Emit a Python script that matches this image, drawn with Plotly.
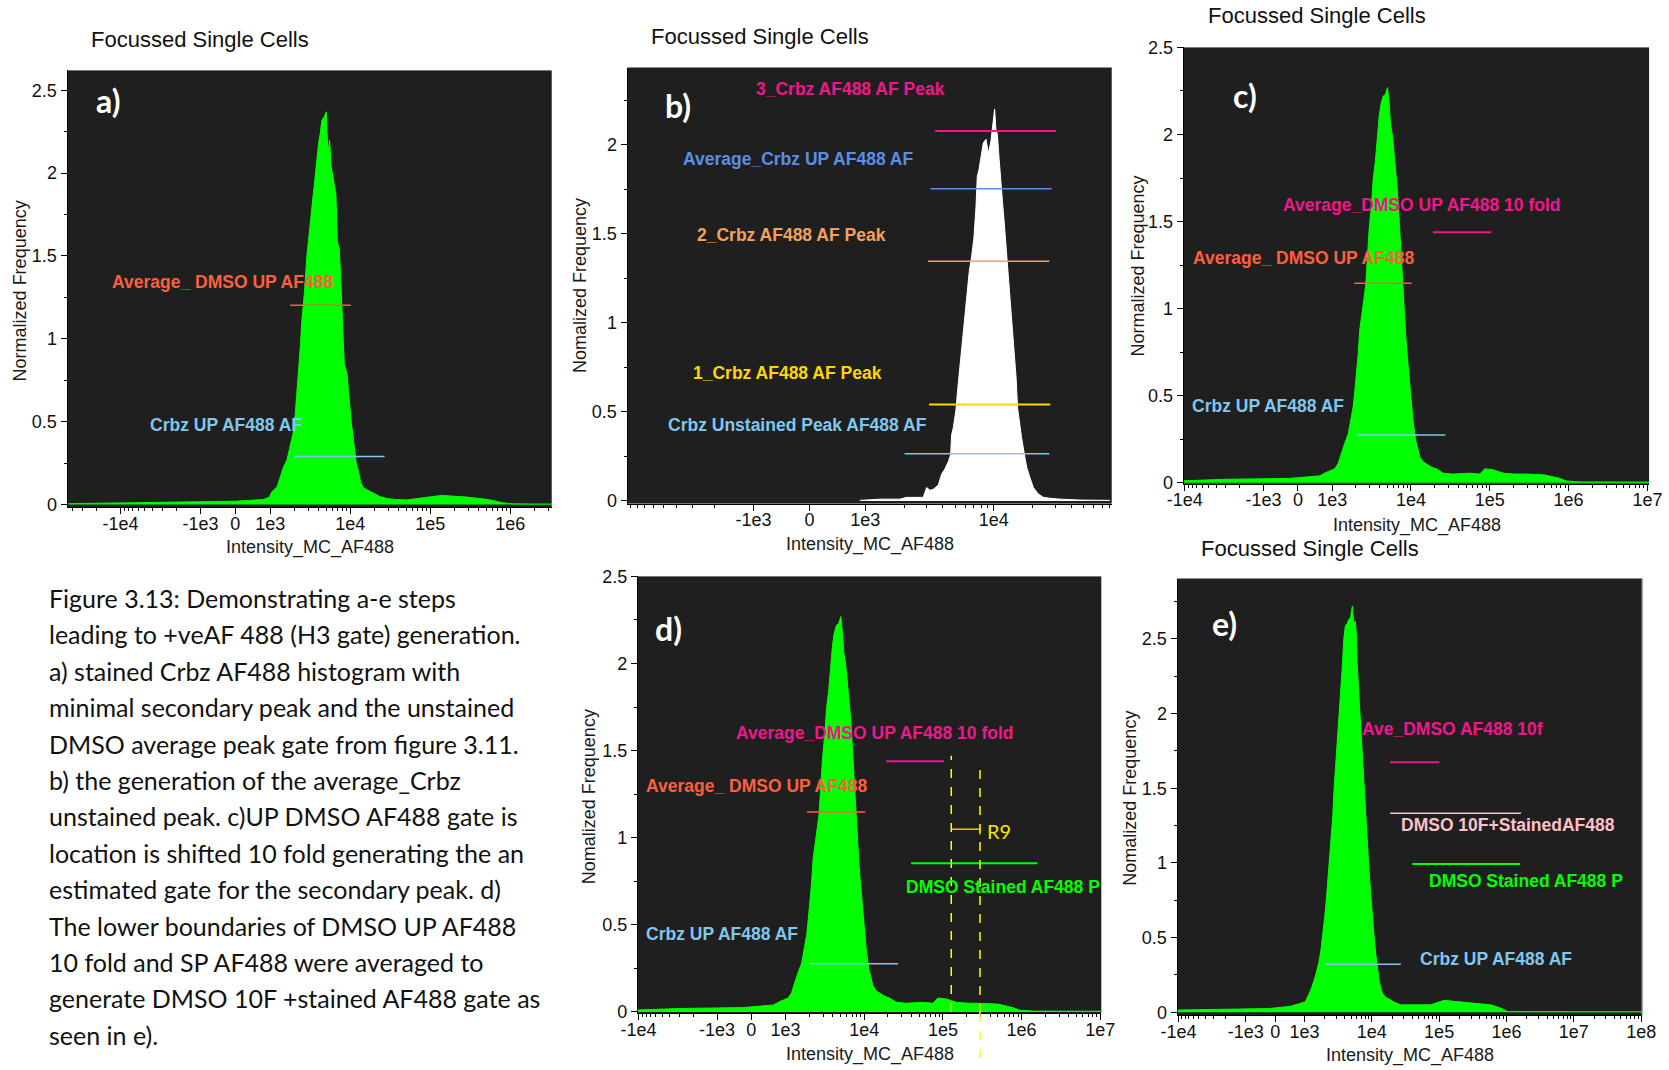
import numpy as np
import plotly.graph_objects as go

# ---------------------------------------------------------------- data
# histogram envelopes: bin intensity (Intensity_MC_AF488) and normalized frequency
a_intensity = [-4.5e4, -3.0e4, -1.0e4, -3.0e3, -1.5e3, -570, 0, 460, 800, 980, 1.05e3, 1.22e3, 1.34e3,
               1.47e3, 1.62e3, 1.78e3, 1.93e3, 2.06e3, 2.27e3, 2.38e3, 2.49e3, 2.67e3, 2.88e3, 3.11e3,
               3.33e3, 3.56e3, 3.77e3, 4.03e3, 4.23e3, 4.43e3, 4.74e3, 5.02e3, 5.27e3, 5.53e3, 5.80e3,
               6.21e3, 6.64e3, 6.90e3, 7.31e3, 7.59e3, 7.89e3, 8.43e3, 9.12e3, 9.75e3, 1.03e4, 1.10e4,
               1.19e4, 1.27e4, 1.36e4, 1.47e4, 1.70e4, 1.96e4, 2.37e4, 2.88e4, 3.64e4, 5.1e4, 8.3e4,
               1.39e5, 2.86e5, 5.32e5, 8.05e5, 1.10e6, 2.0e6, 3.5e6]
a_freq = [0.005, 0.006, 0.008, 0.01, 0.015, 0.018, 0.02, 0.025, 0.03, 0.045, 0.077, 0.107, 0.168,
          0.228, 0.268, 0.349, 0.429, 0.55, 0.80, 0.95, 1.11, 1.27, 1.50, 1.68,
          1.80, 1.93, 2.05, 2.18, 2.24, 2.32, 2.34, 2.37, 2.12, 2.20, 2.04,
          1.94, 1.87, 1.59, 1.54, 1.38, 1.15, 0.85, 0.79, 0.61, 0.50, 0.39,
          0.25, 0.20, 0.13, 0.10, 0.085, 0.067, 0.047, 0.037, 0.03, 0.028, 0.04,
          0.055, 0.045, 0.03, 0.01, 0.004, 0.003, 0.003]

b_intensity = [900, 1.30e3, 1.86e3, 2.09e3, 2.82e3, 3.00e3, 3.18e3, 3.38e3, 3.70e3, 3.92e3, 4.16e3,
               4.42e3, 4.61e3, 4.69e3, 4.83e3, 5.07e3, 5.22e3, 5.38e3, 5.55e3, 5.71e3, 5.89e3, 6.07e3,
               6.25e3, 6.44e3, 6.71e3, 7.00e3, 7.26e3, 7.43e3, 7.66e3, 7.89e3, 8.28e3, 8.69e3, 9.06e3,
               9.49e3, 9.89e3, 1.014e4, 1.038e4, 1.064e4, 1.096e4, 1.13e4, 1.17e4, 1.205e4, 1.24e4,
               1.29e4, 1.33e4, 1.38e4, 1.43e4, 1.49e4, 1.53e4, 1.58e4, 1.64e4, 1.71e4, 1.80e4, 1.91e4,
               2.03e4, 2.21e4, 2.43e4, 2.73e4, 3.27e4, 4.67e4, 8.0e4]
b_freq = [0.003, 0.01, 0.01, 0.02, 0.02, 0.075, 0.06, 0.065, 0.09, 0.15, 0.18,
          0.22, 0.26, 0.37, 0.41, 0.51, 0.62, 0.72, 0.81, 0.92, 1.01, 1.12,
          1.22, 1.29, 1.37, 1.48, 1.65, 1.82, 1.86, 1.92, 2.01, 2.03, 1.95,
          2.02, 2.12, 2.20, 2.08, 2.06, 1.93, 1.78, 1.67, 1.56, 1.44,
          1.29, 1.14, 0.99, 0.86, 0.69, 0.52, 0.43, 0.36, 0.28, 0.19, 0.13,
          0.075, 0.04, 0.02, 0.015, 0.01, 0.005, 0.003]

# panels c and d show the same DMSO sample on the same scale
cd_intensity = [-1.2e4, -3.0e3, -240, 640, 830, 1.03e3, 1.08e3, 1.19e3, 1.31e3, 1.45e3, 1.60e3, 1.76e3,
                1.85e3, 1.94e3, 2.03e3, 2.14e3, 2.24e3, 2.36e3, 2.52e3, 2.67e3, 2.78e3, 2.94e3, 3.16e3,
                3.31e3, 3.54e3, 3.72e3, 3.94e3, 4.14e3, 4.43e3, 4.74e3, 5.04e3, 5.28e3, 5.50e3, 5.82e3,
                6.24e3, 6.67e3, 7.08e3, 7.43e3, 7.80e3, 8.18e3, 8.59e3, 9.02e3, 9.46e3, 9.95e3, 1.06e4,
                1.14e4, 1.23e4, 1.29e4, 1.43e4, 1.57e4, 1.82e4, 2.10e4, 2.56e4, 3.43e4, 5.57e4, 7.47e4,
                8.65e4, 1.09e5, 1.50e5, 2.08e5, 2.88e5, 5.0e5, 7.74e5, 9.4e5, 1.39e6, 1.0e7, 1.2e7]
cd_freq = [0.01, 0.02, 0.025, 0.04, 0.06, 0.08, 0.08, 0.11, 0.17, 0.23, 0.28, 0.38,
           0.44, 0.53, 0.61, 0.74, 0.88, 0.97, 1.05, 1.14, 1.28, 1.45, 1.60,
           1.74, 1.85, 1.99, 2.10, 2.17, 2.22, 2.23, 2.27, 2.18, 2.06, 1.99,
           1.85, 1.70, 1.51, 1.34, 1.15, 0.97, 0.84, 0.72, 0.61, 0.49, 0.36,
           0.25, 0.19, 0.15, 0.12, 0.11, 0.09, 0.08, 0.055, 0.05, 0.055, 0.05,
           0.08, 0.075, 0.055, 0.05, 0.05, 0.045, 0.025, 0.01, 0.005, 0.004, 0.004]

e_intensity = [-1.2e4, -3.0e3, -240, 517, 1.03e3, 1.16e3, 1.29e3, 1.45e3, 1.63e3, 1.76e3, 1.89e3, 2.00e3,
               2.11e3, 2.24e3, 2.37e3, 2.48e3, 2.63e3, 2.75e3, 2.91e3, 3.08e3, 3.27e3, 3.42e3, 3.62e3,
               3.83e3, 4.06e3, 4.30e3, 4.55e3, 4.82e3, 5.15e3, 5.40e3, 5.71e3, 5.92e3, 6.05e3, 6.41e3,
               6.78e3, 7.18e3, 7.60e3, 8.05e3, 8.53e3, 9.02e3, 9.55e3, 1.01e4, 1.07e4, 1.14e4, 1.23e4,
               1.31e4, 1.43e4, 1.60e4, 1.79e4, 2.12e4, 2.67e4, 4.22e4, 7.46e4, 1.18e5, 1.87e5, 3.30e5,
               5.83e5, 8.0e5, 1.05e6, 1.0e7, 1.2e8]
e_freq = [0.015, 0.02, 0.025, 0.04, 0.07, 0.12, 0.17, 0.24, 0.33, 0.42, 0.53, 0.64,
          0.75, 0.89, 1.02, 1.17, 1.31, 1.49, 1.65, 1.80, 1.96, 2.11, 2.29,
          2.49, 2.59, 2.60, 2.63, 2.64, 2.72, 2.60, 2.62, 2.52, 2.34, 2.14,
          1.94, 1.73, 1.56, 1.35, 1.15, 0.98, 0.82, 0.64, 0.53, 0.40, 0.28,
          0.19, 0.13, 0.10, 0.09, 0.07, 0.05, 0.05, 0.05, 0.08, 0.07, 0.06,
          0.05, 0.03, 0.005, 0.004, 0.004]

# gates: name, low / high intensity bound, drawing level
a_gate_names = ["Average_ DMSO UP AF488", "Crbz UP AF488 AF"]
a_gate_lo = [1780, 2020]
a_gate_hi = [10200, 26900]
a_gate_level = [1.202, 0.290]

b_gate_names = ["3_Crbz AF488 AF Peak", "Average_Crbz UP AF488 AF", "2_Crbz AF488 AF Peak",
                "1_Crbz AF488 AF Peak", "Crbz Unstained Peak AF488 AF"]
b_gate_lo = [3490, 3200, 3070, 3130, 2020]
b_gate_hi = [30500, 28200, 27000, 27500, 27000]
b_gate_level = [2.076, 1.753, 1.345, 0.541, 0.265]

c_gate_names = ["Average_DMSO UP AF488 10 fold", "Average_ DMSO UP AF488", "Crbz UP AF488 AF"]
c_gate_lo = [19000, 1900, 2050]
c_gate_hi = [104000, 10200, 27400]
c_gate_level = [1.439, 1.146, 0.274]

d_gate_names = ["Average_DMSO UP AF488 10 fold", "Average_ DMSO UP AF488", "Crbz UP AF488 AF",
                "DMSO Stained AF488 P"]
d_gate_lo = [19000, 1870, 2000, 39400]
d_gate_hi = [103000, 10300, 27000, 1.59e6]
d_gate_level = [1.439, 1.148, 0.277, 0.854]
d_r9_bounds = [1.276e5, 2.96e5]
d_r9_level = 1.049

e_gate_names = ["Ave_DMSO AF488 10f", "DMSO 10F+StainedAF488", "DMSO Stained AF488 P", "Crbz UP AF488 AF"]
e_gate_lo = [18700, 18700, 39900, 2000]
e_gate_hi = [101000, 1.64e6, 1.6e6, 27000]
e_gate_level = [1.674, 1.333, 0.993, 0.322]

tick_values_ae = [-1e4, -1e3, 0, 1e3, 1e4, 1e5, 1e6, 1e7, 1e8]
tick_labels_ae = ["-1e4", "-1e3", "0", "1e3", "1e4", "1e5", "1e6", "1e7", "1e8"]

caption_lines = [
    "Figure 3.13: Demonstrating a-e steps",
    "leading to +veAF 488 (H3 gate) generation.",
    "a) stained Crbz AF488 histogram with",
    "minimal secondary peak and the unstained",
    "DMSO average peak gate from figure 3.11.",
    "b) the generation of the average_Crbz",
    "unstained peak. c)UP DMSO AF488 gate is",
    "location is shifted 10 fold generating the an",
    "estimated gate for the secondary peak. d)",
    "The lower boundaries of DMSO UP AF488",
    "10 fold and SP AF488 were averaged to",
    "generate DMSO 10F +stained AF488 gate as",
    "seen in e).",
]

# ---------------------------------------------------------------- scale
LIN_W = 0.435  # width (in decades) of the linear zone from 0 to 1e3


def logicle(v):
    v = np.asarray(v, dtype=float)
    a = np.abs(v)
    lin = a / 1e3 * LIN_W
    lg = LIN_W + np.log10(np.maximum(a, 1e3) / 1e3)
    return np.sign(v) * np.where(a <= 1e3, lin, lg)


def minor_ticks(lo, hi):
    vals = []
    for k in range(3, 9):
        for m in range(2, 10):
            for s in (1, -1):
                v = s * m * 10 ** k
                if lo <= v <= hi:
                    vals.append(v)
    return list(logicle(vals))


# ---------------------------------------------------------------- colours
BG = "#1f1f1f"
GREEN = "#00ff00"
ORANGE_RED = "#ff5f3c"
LIGHT_BLUE = "#80c8f0"
PINK = "#f0168c"
CORNFLOWER = "#5a8fe8"
SANDY = "#f4a25a"
GOLD = "#ffd700"
LIGHT_PINK = "#ffc0cb"
YELLOW = "#ffff00"

W, H = 1669, 1070
ARIAL = "Liberation Sans, Arial, sans-serif"
LABEL_FONT = dict(family=ARIAL, size=17.5)

panels = [
    dict(key="", box=(67.5, 70.4, 551.7, 507.0), xlim=(-4.6e4, 3.3e6), ylim=(-0.015, 2.62),
         hx=a_intensity, hy=a_freq, color=GREEN,
         gates=(a_gate_names, a_gate_lo, a_gate_hi, a_gate_level), gcol=[ORANGE_RED, LIGHT_BLUE],
         labels=[(-0.157, 1.343, "center"), (-0.121, 0.481, "center")],
         letter="a)", letter_pos=(-1.587, 2.441), ticks=7,
         title=(89, 39.5), xtitle=(310, 547), ytitle=(19.7, 290.7, "Normalized Frequency")),
    dict(key="2", box=(627.5, 67.5, 1111.7, 503.6), xlim=(-9.57e3, 8.26e4), ylim=(-0.015, 2.433),
         hx=b_intensity, hy=b_freq, color="#ffffff",
         gates=(b_gate_names, b_gate_lo, b_gate_hi, b_gate_level),
         gcol=[PINK, CORNFLOWER, SANDY, GOLD, LIGHT_BLUE],
         labels=[(0.316, 2.312, "center"), (-0.092, 1.920, "center"), (-0.140, 1.491, "center"),
                 (-0.173, 0.718, "center"), (-0.092, 0.426, "center")],
         letter="b)", letter_pos=(-1.022, 2.221), ticks=None,
         title=(649, 37), xtitle=(870, 544.5), ytitle=(580, 286, "Nomalized Frequency")),
    dict(key="3", box=(1183.6, 47.4, 1649.1, 483.8), xlim=(-1.035e4, 1.05e7), ylim=(-0.006, 2.5),
         hx=cd_intensity, hy=cd_freq, color=GREEN,
         gates=(c_gate_names, c_gate_lo, c_gate_hi, c_gate_level), gcol=[PINK, ORANGE_RED, LIGHT_BLUE],
         labels=[(1.576, 1.593, "center"), (0.073, 1.292, "center"), (-0.374, 0.443, "center")],
         letter="c)", letter_pos=(-0.674, 2.226), ticks=8,
         title=(1206, 16), xtitle=(1417, 525), ytitle=(1137, 266.5, "Normalized Frequency")),
    dict(key="4", box=(637.9, 576.4, 1101.3, 1013.0), xlim=(-1.016e4, 1.03e7), ylim=(-0.006, 2.5),
         hx=cd_intensity, hy=cd_freq, color=GREEN,
         gates=(d_gate_names, d_gate_lo, d_gate_hi, d_gate_level),
         gcol=[PINK, ORANGE_RED, LIGHT_BLUE, GREEN],
         labels=[(1.574, 1.602, "center"), (0.068, 1.295, "center"), (-0.379, 0.445, "center"),
                 (3.203, 0.717, "center")],
         letter="d)", letter_pos=(-1.049, 2.203), ticks=8,
         title=None, xtitle=(870, 1054), ytitle=(588.7, 796.5, "Nomalized Frequency")),
    dict(key="5", box=(1177.5, 578.5, 1642.3, 1015.3), xlim=(-1.035e4, 1.04e8), ylim=(-0.02, 2.904),
         hx=e_intensity, hy=e_freq, color=GREEN,
         gates=(e_gate_names, e_gate_lo, e_gate_hi, e_gate_level),
         gcol=[PINK, LIGHT_PINK, GREEN, LIGHT_BLUE],
         labels=[(1.263, 1.898, "left"), (1.844, 1.252, "left"), (2.249, 0.882, "left"),
                 (2.116, 0.359, "left")],
         letter="e)", letter_pos=(-0.746, 2.6), ticks=9,
         title=(1199, 548), xtitle=(1410, 1055), ytitle=(1129.7, 798, "Nomalized Frequency")),
]

fig = go.Figure()
annotations = []
shapes = []
layout_axes = {}

for p in panels:
    k = p["key"]
    xa, ya = "x" + k, "y" + k
    l, t, r, b = p["box"]
    lo, hi = p["xlim"]
    if p["ticks"] is None:
        tv = [-1e3, 0, 1e3, 1e4]
        tt = ["-1e3", "0", "1e3", "1e4"]
    else:
        tv = tick_values_ae[:p["ticks"]]
        tt = tick_labels_ae[:p["ticks"]]
    layout_axes["xaxis" + k] = dict(
        domain=[l / W, r / W], anchor=ya, range=list(logicle([lo, hi])), automargin=False,
        tickmode="array", tickvals=list(logicle(tv)), ticktext=tt,
        ticks="outside", ticklen=6, tickcolor="#000", tickwidth=1, ticklabelstandoff=-6,
        showline=True, linecolor="#000", linewidth=1, showgrid=False, zeroline=False,
        tickfont=dict(family=ARIAL, size=18, color="#111"),
        minor=dict(tickmode="array", tickvals=minor_ticks(lo, hi), ticks="outside", ticklen=3,
                   tickcolor="#000", showgrid=False),
    )
    layout_axes["yaxis" + k] = dict(
        domain=[1 - b / H, 1 - t / H], anchor=xa, range=list(p["ylim"]), automargin=False,
        tickmode="linear", tick0=0, dtick=0.5,
        ticks="outside", ticklen=6, tickcolor="#000", tickwidth=1,
        showline=True, linecolor="#000", linewidth=1, showgrid=False, zeroline=False,
        tickfont=dict(family=ARIAL, size=18, color="#111"),
        minor=dict(tick0=0, dtick=0.25, ticks="outside", ticklen=3, tickcolor="#000", showgrid=False),
    )

    # histogram
    fig.add_trace(go.Scatter(
        x=logicle(p["hx"]), y=p["hy"], xaxis=xa, yaxis=ya, mode="lines",
        line=dict(color=p["color"], width=1), fill="tozeroy", fillcolor=p["color"],
        hoverinfo="skip", showlegend=False))

    # gates
    names, glo, ghi, glev = p["gates"]
    for i, name in enumerate(names):
        col = p["gcol"][i]
        fig.add_trace(go.Scatter(
            x=logicle([glo[i], ghi[i]]), y=[glev[i], glev[i]], xaxis=xa, yaxis=ya, mode="lines",
            line=dict(color=col, width=2 if col in (GOLD, PINK, GREEN) else 1.5),
            hoverinfo="skip", showlegend=False))
        lx, ly, anc = p["labels"][i]
        annotations.append(dict(
            x=lx, y=ly, xref=xa, yref=ya, text="<b>" + name + "</b>", showarrow=False,
            xanchor=anc, yanchor="middle", font=dict(color=col, **LABEL_FONT)))

    # panel letter
    annotations.append(dict(
        x=p["letter_pos"][0], y=p["letter_pos"][1], xref=xa, yref=ya, text="<b>" + p["letter"] + "</b>",
        showarrow=False, xanchor="center", yanchor="middle",
        font=dict(family="Lato, Open Sans, sans-serif", size=32, color="#ffffff")))

    # titles
    if p["title"] is not None:
        annotations.append(dict(
            x=p["title"][0] / W, y=1 - p["title"][1] / H, xref="paper", yref="paper",
            text="Focussed Single Cells", showarrow=False, xanchor="left", yanchor="middle",
            font=dict(family=ARIAL, size=22, color="#111")))
    annotations.append(dict(
        x=p["xtitle"][0] / W, y=1 - p["xtitle"][1] / H, xref="paper", yref="paper",
        text="Intensity_MC_AF488", showarrow=False, xanchor="center", yanchor="middle",
        font=dict(family=ARIAL, size=18, color="#1a1a1a")))
    annotations.append(dict(
        x=p["ytitle"][0] / W, y=1 - p["ytitle"][1] / H, xref="paper", yref="paper",
        text=p["ytitle"][2], showarrow=False, xanchor="center", yanchor="middle", textangle=-90,
        font=dict(family=ARIAL, size=18, color="#1a1a1a")))

# thin grey frame edge on the right of panel e
shapes.append(dict(type="line", xref="x5 domain", yref="y5 domain", x0=1, x1=1, y0=0, y1=1,
                   line=dict(color="#a8a8a8", width=1.5)))

# R9 gate in panel d
r9x = logicle(d_r9_bounds)
shapes.append(dict(type="line", xref="x4", yref="y4", x0=r9x[0], x1=r9x[0], y0=0, y1=1.471,
                   line=dict(color=YELLOW, width=1.5, dash="dash")))
shapes.append(dict(type="line", xref="x4", yref="y4", x0=r9x[1], x1=r9x[1], y0=-0.006, y1=1.422,
                   line=dict(color=YELLOW, width=1.5, dash="dash")))
shapes.append(dict(type="line", xref="x4", yref="paper", x0=r9x[1], x1=r9x[1],
                   y0=1 - 1058 / H, y1=1 - 1013 / H, line=dict(color=YELLOW, width=1.5, dash="dash")))
fig.add_trace(go.Scatter(x=r9x, y=[d_r9_level, d_r9_level], xaxis="x4", yaxis="y4", mode="lines",
                         line=dict(color="#e0d000", width=1.5), hoverinfo="skip", showlegend=False))
shapes.append(dict(type="line", xref="x4", yref="y4", x0=r9x[1], x1=r9x[1], y0=d_r9_level - 0.03,
                   y1=d_r9_level + 0.03, line=dict(color="#e0d000", width=1.5)))
annotations.append(dict(x=3.148, y=1.039, xref="x4", yref="y4", text="R9", showarrow=False,
                        xanchor="center", yanchor="middle",
                        font=dict(family="Lato, Open Sans, sans-serif", size=20, color="#f2e600")))

# caption
for i, line in enumerate(caption_lines):
    annotations.append(dict(
        x=46.7 / W, y=1 - (598 + i * 36.4) / H, xref="paper", yref="paper", text=line,
        showarrow=False, xanchor="left", yanchor="middle",
        font=dict(family="Lato, Open Sans, sans-serif", size=25, color="#111")))

fig.update_layout(
    width=W, height=H, margin=dict(l=0, r=0, t=0, b=0, autoexpand=False),
    paper_bgcolor="#ffffff", plot_bgcolor=BG, showlegend=False,
    annotations=annotations, shapes=shapes, **layout_axes)

fig.write_html("out.html")
